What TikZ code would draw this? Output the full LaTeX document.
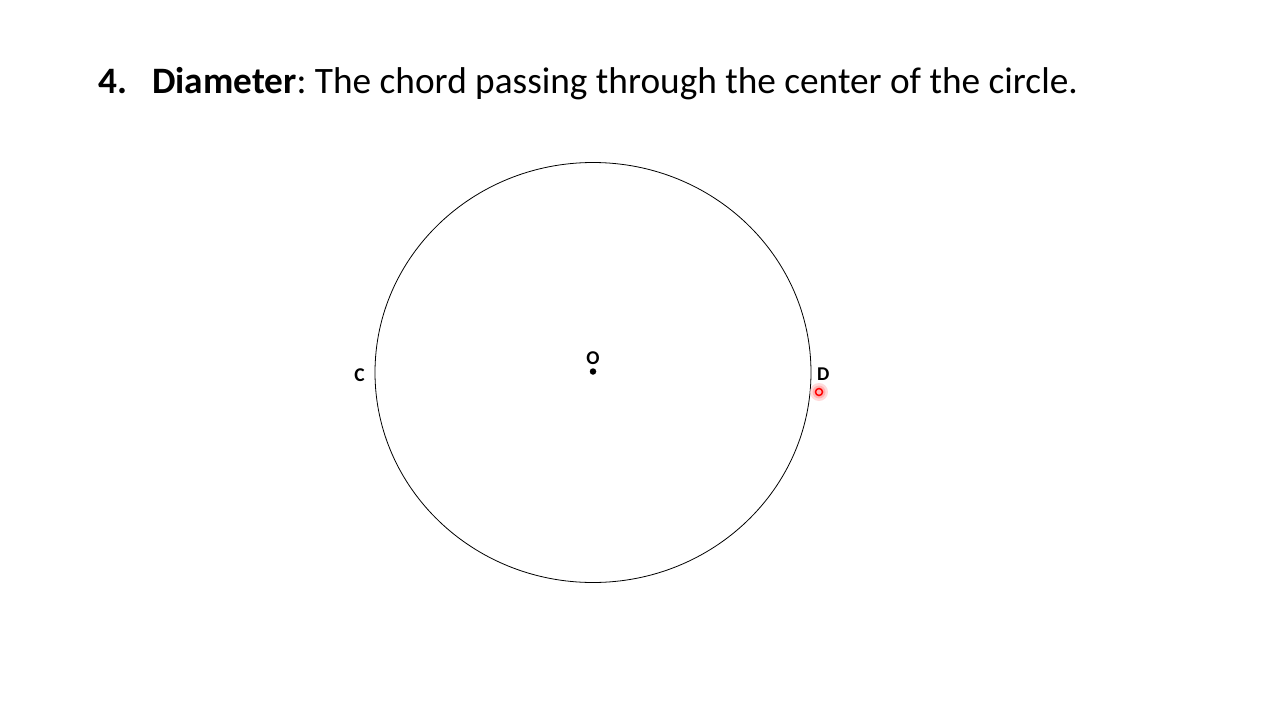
\documentclass[tikz,border=0pt]{standalone}
\usepackage{fontspec}
\setmainfont{Carlito}
\usetikzlibrary{positioning}

\tikzset{
  ptlabel/.style={font=\fontsize{19.5}{19.5}\selectfont\bfseries, inner sep=0pt},
  centredot/.style={circle, fill=black, inner sep=0pt, minimum size=6.5pt},
  pointer/.style={circle, draw=red, line width=1.5pt, inner sep=0pt, minimum size=7pt},
}

\begin{document}
\frenchspacing
\begin{tikzpicture}[x=1pt, y=-1pt]
    \useasboundingbox (0,0) rectangle (1280,720);

    \node [anchor=base west, inner sep=0pt, font=\fontsize{37.3}{37.3}\selectfont] (title) at (98,93.5)
      {\textbf{4.}\hspace{25pt}\textbf{Diameter}: The chord passing through the center of the circle.};

    % the circle with its centre
    \coordinate (centre) at (593,372.5);
    \draw [line width=0.8pt] (centre) ellipse [x radius=218, y radius=210];
    \node [centredot] (dotO) at (593,371.5) {};
    \node [ptlabel, above=3.5pt of dotO] (labO) {O};

    \coordinate (ptC) at (375,372.5);
    \coordinate (ptD) at (811,372.5);
    \node [ptlabel, left=10pt of ptC, yshift=-2.5pt] (labC) {C};
    \node [ptlabel, right=6pt of ptD, yshift=-1.5pt] (labD) {D};

    % mouse pointer
    \fill [red!20, opacity=0.7] (819,392) circle [radius=9];
    \fill [red!35, opacity=0.7] (819,392) circle [radius=6.5];
    \node [pointer] (mouse) at (819,392) {};
  \end{tikzpicture}
\end{document}
